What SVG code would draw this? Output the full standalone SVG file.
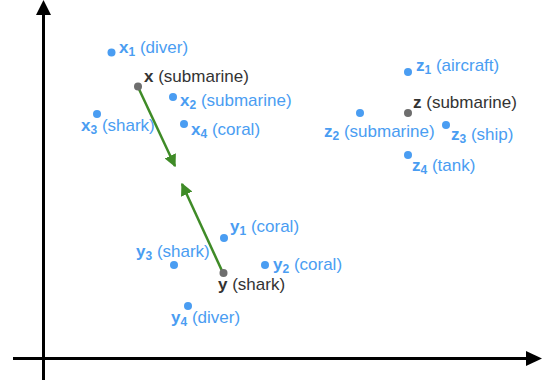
<svg xmlns="http://www.w3.org/2000/svg" width="549" height="383" viewBox="0 0 549 383">
<style>
text{font-family:"Liberation Sans",Arial,sans-serif;font-size:17px}
.b{fill:#4a9df2}
.k{fill:#333333}
.v{font-weight:bold}
.s{font-size:12px;font-weight:bold}
.dot{fill:#4a9df2}
.gdot{fill:#6e6e6e}
.ax{stroke:#000;stroke-width:3;fill:none}
.gr{stroke:#3f8b27;stroke-width:2.5;fill:none}
</style>
<defs>
<marker id="ga" viewBox="0 0 10 10" refX="9" refY="5" markerWidth="5" markerHeight="5" orient="auto" markerUnits="strokeWidth">
<path d="M0,0 L10,5 L0,10 z" fill="#3f8b27"/>
</marker>
</defs>
<g id="axes">
<line class="ax" x1="43.5" y1="380" x2="43.5" y2="12"/>
<polygon points="43.5,0 36,15 51,15" fill="#000"/>
<line class="ax" x1="13" y1="358.5" x2="528" y2="358.5"/>
<polygon points="542,358.5 526,351 526,366" fill="#000"/>
</g>
<g id="connectors">
<line class="gr" x1="138" y1="87" x2="175" y2="166" marker-end="url(#ga)"/>
<line class="gr" x1="223" y1="273" x2="182" y2="184" marker-end="url(#ga)"/>
</g>
<g id="x-group">
<g id="x1"><circle class="dot" cx="111.5" cy="52.5" r="4"/><text class="b" x="119" y="53"><tspan class="v">x</tspan><tspan class="s" dy="3">1</tspan><tspan dy="-3"> (diver)</tspan></text></g>
<g id="x"><circle class="gdot" cx="138" cy="86.5" r="4"/><text class="k" x="144" y="82"><tspan class="v">x</tspan> (submarine)</text></g>
<g id="x2"><circle class="dot" cx="173" cy="97" r="4"/><text class="b" x="180" y="106"><tspan class="v">x</tspan><tspan class="s" dy="3">2</tspan><tspan dy="-3"> (submarine)</tspan></text></g>
<g id="x3"><circle class="dot" cx="97" cy="114" r="4"/><text class="b" x="81" y="131"><tspan class="v">x</tspan><tspan class="s" dy="3">3</tspan><tspan dy="-3"> (shark)</tspan></text></g>
<g id="x4"><circle class="dot" cx="184" cy="124" r="4"/><text class="b" x="191" y="135"><tspan class="v">x</tspan><tspan class="s" dy="3">4</tspan><tspan dy="-3"> (coral)</tspan></text></g>
</g>
<g id="y-group">
<g id="y1"><circle class="dot" cx="224" cy="238" r="4"/><text class="b" x="230" y="232"><tspan class="v">y</tspan><tspan class="s" dy="3">1</tspan><tspan dy="-3"> (coral)</tspan></text></g>
<g id="y3"><circle class="dot" cx="174" cy="265" r="4"/><text class="b" x="136" y="257"><tspan class="v">y</tspan><tspan class="s" dy="3">3</tspan><tspan dy="-3"> (shark)</tspan></text></g>
<g id="y2"><circle class="dot" cx="265" cy="265" r="4"/><text class="b" x="273" y="270"><tspan class="v">y</tspan><tspan class="s" dy="3">2</tspan><tspan dy="-3"> (coral)</tspan></text></g>
<g id="y"><circle class="gdot" cx="223.5" cy="273" r="4"/><text class="k" x="218" y="290"><tspan class="v">y</tspan> (shark)</text></g>
<g id="y4"><circle class="dot" cx="188" cy="306" r="4"/><text class="b" x="171" y="323"><tspan class="v">y</tspan><tspan class="s" dy="3">4</tspan><tspan dy="-3"> (diver)</tspan></text></g>
</g>
<g id="z-group">
<g id="z1"><circle class="dot" cx="408" cy="72" r="4"/><text class="b" x="416" y="71"><tspan class="v">z</tspan><tspan class="s" dy="3">1</tspan><tspan dy="-3"> (aircraft)</tspan></text></g>
<g id="z"><circle class="gdot" cx="408" cy="113" r="4"/><text class="k" x="413" y="108"><tspan class="v">z</tspan> (submarine)</text></g>
<g id="z2"><circle class="dot" cx="360" cy="113" r="4"/><text class="b" x="324" y="137"><tspan class="v">z</tspan><tspan class="s" dy="3">2</tspan><tspan dy="-3"> (submarine)</tspan></text></g>
<g id="z3"><circle class="dot" cx="446" cy="125" r="4"/><text class="b" x="451" y="140"><tspan class="v">z</tspan><tspan class="s" dy="3">3</tspan><tspan dy="-3"> (ship)</tspan></text></g>
<g id="z4"><circle class="dot" cx="408" cy="155" r="4"/><text class="b" x="412" y="171"><tspan class="v">z</tspan><tspan class="s" dy="3">4</tspan><tspan dy="-3"> (tank)</tspan></text></g>
</g>
</svg>
